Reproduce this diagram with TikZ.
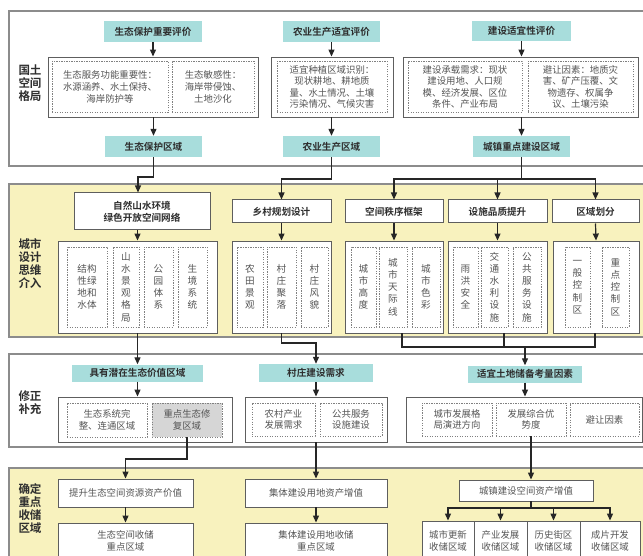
\documentclass[tikz,border=0pt]{standalone}
\usepackage{fontspec}
\setmainfont{Noto Sans CJK SC}[BoldFont={Noto Sans CJK SC Bold}]
\usetikzlibrary{arrows.meta}
\definecolor{cyanfill}{HTML}{A8DDDC}
\definecolor{yellowfill}{HTML}{F8F2BE}
\definecolor{panelline}{HTML}{8C8C8C}
\definecolor{boxline}{HTML}{5E5E5E}
\definecolor{txtgray}{HTML}{555555}
\definecolor{grayfill}{HTML}{D6D6D6}
\definecolor{darktxt}{HTML}{2E2E2E}
\tikzset{
  panel/.style={draw=panelline, line width=1.1pt},
  hdr/.style={fill=cyanfill, font=\bfseries\fontsize{9.6}{11}\selectfont, text=darktxt, inner sep=0pt},
  whdr/.style={draw=boxline, fill=white, line width=1pt, font=\bfseries\fontsize{9.6}{12}\selectfont, text=darktxt, inner sep=0pt, align=center},
  wbox/.style={draw=boxline, fill=white, line width=0.9pt, inner sep=0pt},
  dbox/.style={draw=gray, dash pattern=on 1.1pt off 1.4pt, line width=0.8pt, inner sep=0pt, align=center, font=\fontsize{9.4}{11.6}\selectfont, text=txtgray},
  vbox/.style={dbox, font=\fontsize{9.6}{12.2}\selectfont},
  tbox/.style={wbox, align=center, font=\fontsize{9.4}{12}\selectfont, text=txtgray},
  side/.style={font=\bfseries\fontsize{11.5}{13}\selectfont, align=center, text=darktxt, inner sep=0pt},
  arr/.style={-{Triangle[length=7pt,width=6pt]}, line width=1.2pt, draw=black!85},
  ln/.style={line width=1.2pt, draw=black!85}
}
\begin{document}
\begin{tikzpicture}[x=1pt,y=-1pt]
\useasboundingbox (0,0) rectangle (643,556);
\clip (0,0) rectangle (643,556);
% panels
\draw[panel, fill=white] (9,11) rectangle (650,166);
\draw[panel, fill=yellowfill] (9,184) rectangle (650,337);
\draw[panel, fill=white] (9,354) rectangle (650,447);
\draw[panel, fill=yellowfill] (9,468) rectangle (650,580);
% side labels
\node[side] (s1) at (30,83) {国土\\空间\\格局};
\node[side] (s2) at (30,264) {城市\\设计\\思维\\介入};
\node[side] (s3) at (30,403) {修正\\补充};
\node[side] (s4) at (30,509) {确定\\重点\\收储\\区域};
% ---------- row 1
\node[hdr, minimum width=98, minimum height=21] (h1) at (153,31.5) {生态保护重要评价};
\node[hdr, minimum width=97, minimum height=21] (h2) at (331.5,31.5) {农业生产适宜评价};
\node[hdr, minimum width=99, minimum height=20] (h3) at (521.5,31) {建设适宜性评价};
\node[wbox, minimum width=210, minimum height=60] (b1) at (153,87) {};
\node[dbox, minimum width=116, minimum height=51] (d1a) at (110,87) {生态服务功能重要性：\\水源涵养、水土保持、\\海岸防护等};
\node[dbox, minimum width=82, minimum height=51] (d1b) at (213,87) {生态敏感性：\\海岸带侵蚀、\\土地沙化};
\node[wbox, minimum width=122, minimum height=60] (b2) at (332,87) {};
\node[dbox, minimum width=110, minimum height=51] (d2) at (332,87) {适宜种植区域识别：\\现状耕地、耕地质\\量、水土情况、土壤\\污染情况、气候灾害};
\node[wbox, minimum width=235, minimum height=60] (b3) at (520.5,87) {};
\node[dbox, minimum width=114, minimum height=51] (d3a) at (465,87) {建设承载需求：现状\\建设用地、人口规\\模、经济发展、区位\\条件、产业布局};
\node[dbox, minimum width=105, minimum height=51] (d3b) at (580.5,87) {避让因素：地质灾\\害、矿产压覆、文\\物遗存、权属争\\议、土壤污染};
\node[hdr, minimum width=97, minimum height=21] (r1) at (153.5,146.5) {生态保护区域};
\node[hdr, minimum width=97, minimum height=21] (r2) at (331.5,146.5) {农业生产区域};
\node[hdr, minimum width=97, minimum height=21] (r3) at (521.5,146.5) {城镇重点建设区域};
\draw[arr] (h1.south) -- (b1.north -| h1.south);
\draw[arr] (h2.south) -- (b2.north -| h2.south);
\draw[arr] (h3.south) -- (b3.north -| h3.south);
\draw[arr] (b1.south -| r1.north) -- (r1.north);
\draw[arr] (b2.south -| r2.north) -- (r2.north);
\draw[arr] (b3.south -| r3.north) -- (r3.north);
% ---------- row 2
\node[whdr, minimum width=136, minimum height=37] (p1) at (142,211.5) {自然山水环境\\绿色开放空间网络};
\node[whdr, minimum width=99, minimum height=23] (p2) at (281.5,211.5) {乡村规划设计};
\node[whdr, minimum width=98, minimum height=23] (p3) at (394,211.5) {空间秩序框架};
\node[whdr, minimum width=99, minimum height=23] (p4) at (497.5,211.5) {设施品质提升};
\node[whdr, minimum width=87, minimum height=23] (p5) at (595.5,211.5) {区域划分};
\node[wbox, minimum width=159, minimum height=92] (c1) at (137.5,287) {};
\node[wbox, minimum width=99, minimum height=92] (c2) at (281.5,287) {};
\node[wbox, minimum width=98, minimum height=92] (c3) at (394,287) {};
\node[wbox, minimum width=99, minimum height=92] (c4) at (497.5,287) {};
\node[wbox, minimum width=86, minimum height=92] (c5) at (596,287) {};
\node[vbox, minimum width=40, minimum height=80] (v11) at (87,287) {结构\\性绿\\地和\\水体};
\node[vbox, minimum width=26, minimum height=80] (v12) at (126,287) {山\\水\\景\\观\\格\\局};
\node[vbox, minimum width=29, minimum height=80] (v13) at (158.5,287) {公\\园\\体\\系};
\node[vbox, minimum width=29, minimum height=80] (v14) at (192.5,287) {生\\境\\系\\统};
\node[vbox, minimum width=26, minimum height=80] (v21) at (250,287) {农\\田\\景\\观};
\node[vbox, minimum width=29, minimum height=80] (v22) at (281.5,287) {村\\庄\\聚\\落};
\node[vbox, minimum width=27, minimum height=80] (v23) at (314.5,287) {村\\庄\\风\\貌};
\node[vbox, minimum width=25, minimum height=80] (v31) at (363.5,287) {城\\市\\高\\度};
\node[vbox, minimum width=28, minimum height=80] (v32) at (393,287) {城\\市\\天\\际\\线};
\node[vbox, minimum width=28, minimum height=80] (v33) at (426,287) {城\\市\\色\\彩};
\node[vbox, minimum width=25, minimum height=80] (v41) at (465.5,287) {雨\\洪\\安\\全};
\node[vbox, minimum width=27, minimum height=80] (v42) at (494.5,287) {交\\通\\水\\利\\设\\施};
\node[vbox, minimum width=28, minimum height=80] (v43) at (527,287) {公\\共\\服\\务\\设\\施};
\node[vbox, minimum width=25, minimum height=80] (v51) at (577.5,287) {一\\般\\控\\制\\区};
\node[vbox, minimum width=27, minimum height=80] (v52) at (615.5,287) {重\\点\\控\\制\\区};
% row1 -> row2
\coordinate (j1) at (138,177);
\coordinate (j2) at (281.5,179);
\coordinate (j3) at (521.5,179);
\draw[arr] (r1.south) |- (j1) -- (j1 |- p1.north);
\draw[arr] (r2.south) |- (j2) -- (p2.north);
\draw[ln] (r3.south) -- (j3);
\draw[arr] (j3) -| (p3.north);
\draw[arr] (j3) -| (p5.north);
\draw[arr] (p4.north |- j3) -- (p4.north);
\draw[arr] (c1.north |- p1.south) -- (c1.north);
\draw[arr] (p2.south) -- (c2.north);
\draw[arr] (p3.south) -- (c3.north);
\draw[arr] (p4.south) -- (c4.north);
\draw[arr] (p5.south) -- (c5.north);
% ---------- row 3
\node[hdr, minimum width=131, minimum height=17] (q1) at (137.5,373) {具有潜在生态价值区域};
\node[hdr, minimum width=114, minimum height=18] (q2) at (316,373) {村庄建设需求};
\node[hdr, minimum width=114, minimum height=17] (q3) at (525,374) {适宜土地储备考量因素};
\node[wbox, minimum width=174, minimum height=45] (e1) at (145,419.5) {};
\node[dbox, minimum width=80, minimum height=34] (e1a) at (107,420) {生态系统完\\整、连通区域};
\node[dbox, fill=grayfill, minimum width=70, minimum height=34] (e1b) at (187,420) {重点生态修\\复区域};
\node[wbox, minimum width=142, minimum height=45] (e2) at (316,419.5) {};
\node[dbox, minimum width=63, minimum height=33] (e2a) at (283.5,419.5) {农村产业\\发展需求};
\node[dbox, minimum width=62, minimum height=33] (e2b) at (351,419.5) {公共服务\\设施建设};
\node[wbox, minimum width=236, minimum height=45] (e3) at (524,419.5) {};
\node[dbox, minimum width=70, minimum height=33] (e3a) at (457,419.5) {城市发展格\\局演进方向};
\node[dbox, minimum width=70, minimum height=33] (e3b) at (531,419.5) {发展综合优\\势度};
\node[dbox, minimum width=69, minimum height=33] (e3c) at (604.5,419.5) {避让因素};
% row2 -> row3
\coordinate (k2) at (316,343);
\coordinate (k3) at (525,347);
\draw[arr] (c1.south) -- (q1.north);
\draw[arr] (c2.south) |- (k2) -- (q2.north);
\draw[ln] ([xshift=8]c3.south) |- ([xshift=-1]c5.south |- k3) -- ([xshift=-1]c5.south);
\draw[ln] ([xshift=6.5]c4.south) -- ([xshift=6.5]c4.south |- k3);
\draw[arr] (k3) -- (q3.north);
\draw[arr] (q1.south) -- (e1.north -| q1.south);
\draw[arr] (q2.south) -- (e2.north);
\draw[arr] (q3.south) -- (e3.north -| q3.south);
% ---------- row 4
\node[tbox, minimum width=135, minimum height=28] (f1) at (125.5,493) {提升生态空间资源资产价值};
\node[tbox, minimum width=135, minimum height=36] (g1) at (125.5,541) {生态空间收储\\重点区域};
\node[tbox, minimum width=142, minimum height=28] (f2) at (316,493) {集体建设用地资产增值};
\node[tbox, minimum width=142, minimum height=36] (g2) at (316,541) {集体建设用地收储\\重点区域};
\node[tbox, minimum width=134, minimum height=21] (f3) at (526,490.5) {城镇建设空间资产增值};
\node[tbox, minimum width=52, minimum height=40] (g3) at (448,541) {城市更新\\收储区域};
\node[tbox, minimum width=53, minimum height=40] (g4) at (500.5,541) {产业发展\\收储区域};
\node[tbox, minimum width=53, minimum height=40] (g5) at (553.5,541) {历史街区\\收储区域};
\node[tbox, minimum width=60, minimum height=40] (g6) at (610,541) {成片开发\\收储区域};
% row3 -> row4
\coordinate (m1) at (125.5,459);
\coordinate (n3) at (531,508);
\draw[arr] (e1b.south) |- (m1) -- (f1.north);
\draw[arr] (e2.south) -- (f2.north);
\draw[arr] (e3b.south) -- (e3b.south |- f3.north);
\draw[arr] (f1.south) -- (g1.north);
\draw[arr] (f2.south) -- (g2.north);
\draw[ln] (f3.south -| n3) -- (n3);
\draw[arr] (n3) -| (g3.north);
\draw[arr] (n3) -| (g6.north);
\draw[arr] (g4.north |- n3) -- (g4.north);
\draw[arr] (g5.north |- n3) -- (g5.north);
\end{tikzpicture}
\end{document}
